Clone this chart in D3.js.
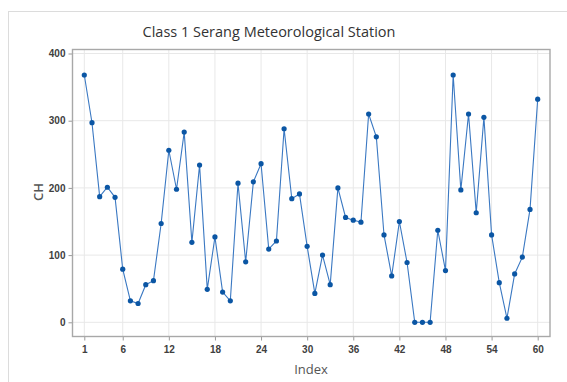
<!DOCTYPE html>
<html>
<head>
<meta charset="utf-8">
<script src="https://cdn.jsdelivr.net/npm/d3@7"></script>
<style>
  html, body { margin: 0; padding: 0; background: #fff; }
  svg { display: block; font-family: "Open Sans", "Noto Sans", sans-serif; }
</style>
</head>
<body>
<svg id="chart" width="567" height="382"></svg>
<script>
// Monthly rainfall (CH) series, observation index 1..60
const index = d3.range(1, 61);
const ch = [
  368, 297, 187, 201, 186, 79, 32, 28, 56, 62,
  147, 256, 198, 283, 119, 234, 49, 127, 45, 32,
  207, 90, 209, 236, 109, 121, 288, 184, 191, 113,
  43, 100, 56, 200, 156, 152, 149, 310, 276, 130,
  69, 150, 89, 0, 0, 0, 137, 77, 368, 197,
  310, 163, 305, 130, 59, 6, 72, 97, 168, 332
];
const xTicks = [1, 6, 12, 18, 24, 30, 36, 42, 48, 54, 60];
const yTicks = [0, 100, 200, 300, 400];

const titleText = "Class 1 Serang Meteorological Station";
const xLabel = "Index";
const yLabel = "CH";

const svg = d3.select("#chart");

// outer panel border (left + top visible)
svg.append("rect")
  .attr("x", 8.5).attr("y", 11.5)
  .attr("width", 620).attr("height", 420)
  .attr("fill", "none").attr("stroke", "#dcdcdc").attr("stroke-width", 1);

const frame = { left: 72.5, right: 550, top: 49.5, bottom: 336.5 };

const x = d3.scaleLinear().domain([1, 60]).range([84.3, 537.7]);
const y = d3.scaleLinear().domain([0, 400]).range([322.3, 53.5]);

// gridlines
const grid = svg.append("g");
grid.selectAll("line.gx").data(xTicks).join("line")
  .attr("x1", d => x(d)).attr("x2", d => x(d))
  .attr("y1", frame.top).attr("y2", frame.bottom)
  .attr("stroke", "#e8e8e8").attr("stroke-width", 1);
grid.selectAll("line.gy").data(yTicks).join("line")
  .attr("y1", d => y(d)).attr("y2", d => y(d))
  .attr("x1", frame.left).attr("x2", frame.right)
  .attr("stroke", "#e8e8e8").attr("stroke-width", 1);

// axes
const xAxis = svg.append("g")
  .attr("transform", `translate(0,${frame.bottom})`)
  .call(d3.axisBottom(x).tickValues(xTicks).tickSize(4).tickPadding(5).tickSizeOuter(0));
const yAxis = svg.append("g")
  .attr("transform", `translate(${frame.left},0)`)
  .call(d3.axisLeft(y).tickValues(yTicks).tickSize(4).tickPadding(3).tickSizeOuter(0));
[xAxis, yAxis].forEach(a => {
  a.select(".domain").remove();
  a.selectAll(".tick line").attr("stroke", "#999");
  a.selectAll(".tick text")
    .attr("fill", "#404040")
    .style("font-size", "10px")
    .style("font-weight", "600");
});

// plot frame
svg.append("rect")
  .attr("x", frame.left).attr("y", frame.top)
  .attr("width", frame.right - frame.left).attr("height", frame.bottom - frame.top)
  .attr("fill", "none").attr("stroke", "#a8a8a8").attr("stroke-width", 1.4);

// series line + markers
const line = d3.line().x((d, i) => x(index[i])).y(d => y(d));
svg.append("path")
  .datum(ch)
  .attr("d", line)
  .attr("fill", "none")
  .attr("stroke", "#3a78c2")
  .attr("stroke-width", 1.1);
svg.append("g").selectAll("circle").data(ch).join("circle")
  .attr("cx", (d, i) => x(index[i]))
  .attr("cy", d => y(d))
  .attr("r", 2.6)
  .attr("fill", "#0b56a4");

// title and axis labels
svg.append("text")
  .attr("x", 269).attr("y", 37)
  .attr("text-anchor", "middle")
  .attr("fill", "#333")
  .style("font-size", "14.5px")
  .style("font-weight", "500")
  .text(titleText);
svg.append("text")
  .attr("x", 311).attr("y", 374)
  .attr("text-anchor", "middle")
  .attr("fill", "#555")
  .style("font-size", "13px")
  .text(xLabel);
svg.append("text")
  .attr("transform", "translate(43,192) rotate(-90)")
  .attr("text-anchor", "middle")
  .attr("fill", "#555")
  .style("font-size", "13px")
  .style("font-weight", "600")
  .text(yLabel);
</script>
</body>
</html>
